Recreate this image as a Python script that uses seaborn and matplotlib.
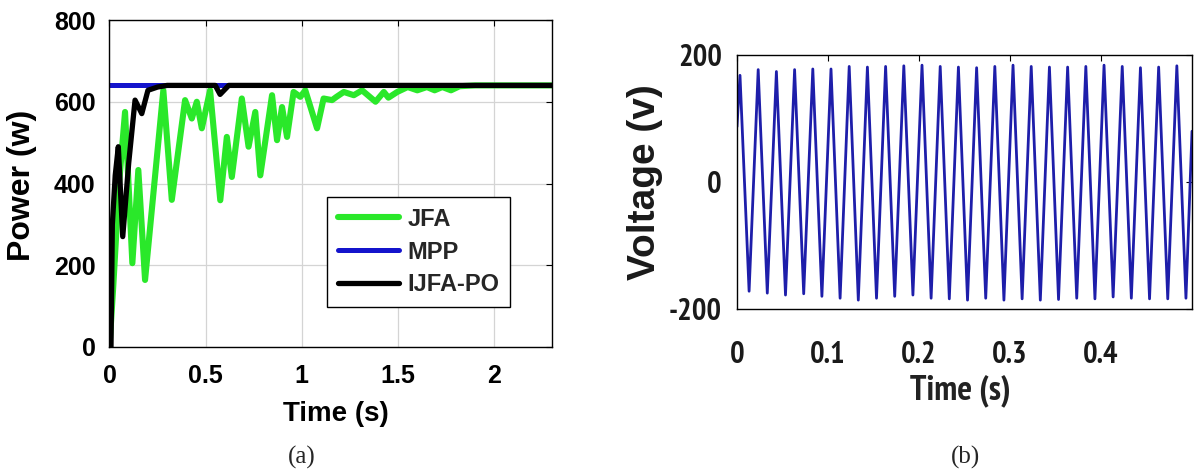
import matplotlib
matplotlib.use("Agg")
import matplotlib.pyplot as plt
import numpy as np
import pandas as pd
import seaborn as sns

# ---------------- (a) tracked PV power ----------------
jfa_time = [0.0, 0.02, 0.05, 0.081, 0.119, 0.15, 0.185, 0.28, 0.324, 0.393,
            0.428, 0.454, 0.48, 0.523, 0.576, 0.61, 0.636, 0.688, 0.723, 0.758,
            0.784, 0.845, 0.871, 0.897, 0.923, 0.957, 0.992, 1.018, 1.079, 1.113,
            1.157, 1.18, 1.218, 1.27, 1.313, 1.383, 1.426, 1.45, 1.496, 1.55,
            1.6, 1.65, 1.69, 1.73, 1.775, 1.82, 1.9, 2.3]
jfa_power = [0, 150, 400, 575, 205, 433, 164, 628, 360, 604,
             559, 600, 535, 628, 359, 514, 416, 608, 490, 575,
             420, 616, 506, 587, 514, 624, 612, 628, 535, 608,
             604, 612, 624, 616, 628, 600, 624, 610, 624, 636,
             628, 636, 628, 636, 628, 638, 640, 640]

mpp_time = [0.0, 2.3]
mpp_power = [640, 640]

ijfa_time = [0.0, 0.008, 0.015, 0.03, 0.046, 0.069, 0.1, 0.133, 0.168, 0.2,
             0.25, 0.3, 0.55, 0.575, 0.62, 2.3]
ijfa_power = [0, 0, 300, 420, 490, 270, 450, 604, 571, 628,
              636, 640, 640, 618, 640, 640]

power_xticks = [0, 0.5, 1, 1.5, 2]
power_yticks = [0, 200, 400, 600, 800]

# ---------------- (b) inverter output voltage ----------------
grid_freq = 50.0          # Hz
v_start = 87              # V at t = 0
v_end = 80                # V at t = 0.5 s
v_peaks = [168, 177, 174, 177, 178, 178, 182, 181, 182, 183, 184, 182, 181,
           180, 182, 184, 182, 181, 181, 182, 184, 182, 180, 181, 183]
v_troughs = [-172, -175, -178, -176, -180, -183, -186, -183, -180, -178, -183,
             -184, -186, -183, -186, -184, -186, -185, -183, -184, -181, -183,
             -184, -184, -183]

volt_xticks = [0, 0.1, 0.2, 0.3, 0.4]
volt_yticks = [-200, 0, 200]

# turning points of the waveform: one crest and one trough per cycle
period = 1.0 / grid_freq
first_crest = period / 6.0
v_time = [0.0]
v_vals = [v_start]
for k, (pk, tr) in enumerate(zip(v_peaks, v_troughs)):
    v_time += [first_crest + k * period, first_crest + k * period + period / 2]
    v_vals += [pk, tr]
v_time.append(0.5)
v_vals.append(v_end)

power_df = pd.concat([
    pd.DataFrame({"t": jfa_time, "p": jfa_power, "method": "JFA"}),
    pd.DataFrame({"t": mpp_time, "p": mpp_power, "method": "MPP"}),
    pd.DataFrame({"t": ijfa_time, "p": ijfa_power, "method": "IJFA-PO"}),
])
volt_df = pd.DataFrame({"t": v_time, "v": v_vals})

sns.set_theme(style="white")
plt.rcParams["font.family"] = ["Liberation Sans", "DejaVu Sans"]
plt.rcParams["axes.unicode_minus"] = False

fig = plt.figure(figsize=(11.95, 4.73), dpi=100)
ax1 = fig.add_axes([0.0916, 0.2664, 0.3703, 0.6913])
ax2 = fig.add_axes([0.6167, 0.3467, 0.3808, 0.5370])

# ---- panel (a) ----
styles = {"JFA": ("#2ae82a", 4.4), "MPP": ("#1414cc", 3.6), "IJFA-PO": ("#000000", 3.8)}
for name in ["JFA", "MPP", "IJFA-PO"]:
    col, lw = styles[name]
    sub = power_df[power_df["method"] == name]
    sns.lineplot(data=sub, x="t", y="p", ax=ax1, color=col, linewidth=lw,
                 label=name, estimator=None, sort=False,
                 solid_joinstyle="round", solid_capstyle="round")

ax1.set_xlim(0, 2.3)
ax1.set_ylim(0, 800)
ax1.set_xticks(power_xticks)
ax1.set_xticklabels(["0", "0.5", "1", "1.5", "2"])
ax1.set_yticks(power_yticks)
ax1.grid(True, color="#d4d4d4", linewidth=0.9)
ax1.set_axisbelow(True)
ax1.tick_params(direction="in", length=4, width=0.8, top=True, right=True,
                colors="black", labelsize=18)
ax1.tick_params(axis="x", pad=12)
ax1.tick_params(axis="y", pad=10)
for lab in ax1.get_xticklabels() + ax1.get_yticklabels():
    lab.set_fontweight("bold")
for sp in ax1.spines.values():
    sp.set_color("black")
    sp.set_linewidth(1.0)

ax1.set_xlabel("Time (s)", fontsize=20, fontweight="bold", color="black")
ax1.set_ylabel("Power (w)", fontsize=23, fontweight="bold", color="black")
ax1.xaxis.label.set_va("center")
ax1.yaxis.label.set_va("center")
ax1.xaxis.set_label_coords(0.512, -0.205)
ax1.yaxis.set_label_coords(-0.197, 0.495)

leg = ax1.legend(loc="upper left", bbox_to_anchor=(0.4915, 0.4587),
                 frameon=True, fancybox=False, framealpha=1, edgecolor="black",
                 handlelength=2.6, handletextpad=0.35, borderpad=0.45,
                 labelspacing=0.42, borderaxespad=0,
                 prop={"weight": "bold", "size": 17})
leg.get_frame().set_linewidth(1.0)

# ---- panel (b) ----
narrow = ["Liberation Sans Narrow", "Arial Narrow", "PT Sans Narrow", "DejaVu Sans"]
sns.lineplot(data=volt_df, x="t", y="v", ax=ax2, color="#1e1eaa",
             linewidth=2.0, estimator=None, sort=False, solid_joinstyle="round")
ax2.set_xlim(0, 0.5)
ax2.set_ylim(-200, 200)
ax2.set_xticks(volt_xticks)
ax2.set_xticklabels(["0", "0.1", "0.2", "0.3", "0.4"])
ax2.set_yticks(volt_yticks)
ax2.tick_params(direction="in", length=4, width=0.8, top=True, right=True,
                colors="black", labelsize=22)
ax2.tick_params(axis="x", pad=23)
ax2.tick_params(axis="y", pad=11)
for lab in ax2.get_xticklabels() + ax2.get_yticklabels():
    lab.set_family(narrow)
    lab.set_fontweight("bold")
    lab.set_color("#1a1a1a")
for sp in ax2.spines.values():
    sp.set_color("black")
    sp.set_linewidth(1.0)

ax2.set_xlabel("Time (s)", fontsize=25, family=narrow, fontweight="bold",
               color="#222222")
ax2.set_ylabel("Voltage (v)", fontsize=28, fontweight="bold", color="#1a1a1a")
ax2.xaxis.label.set_va("center")
ax2.yaxis.label.set_va("center")
ax2.xaxis.set_label_coords(0.49, -0.32)
ax2.yaxis.set_label_coords(-0.202, 0.5)

# captions
fig.text(302 / 1195, 1 - 457 / 473, "(a)", ha="center", va="center",
         fontsize=18, family=["Liberation Serif", "DejaVu Serif"])
fig.text(965 / 1195, 1 - 457 / 473, "(b)", ha="center", va="center",
         fontsize=18, family=["Liberation Serif", "DejaVu Serif"])

fig.savefig("out.png", dpi=100)
